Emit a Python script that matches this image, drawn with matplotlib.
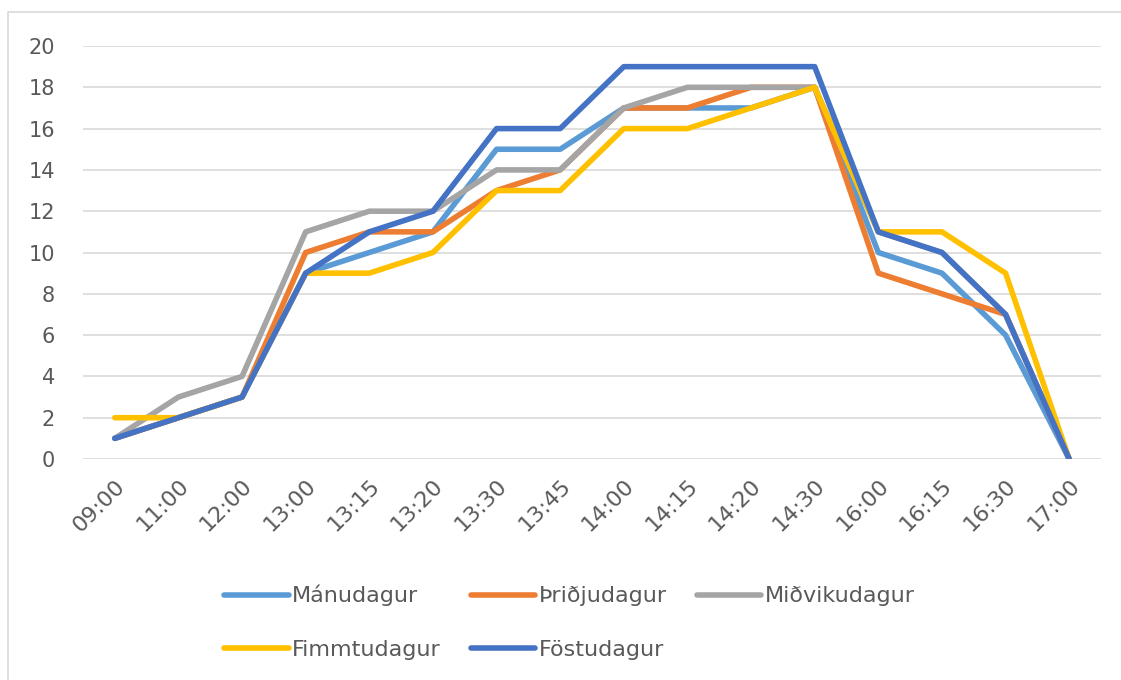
import matplotlib.pyplot as plt
from matplotlib.lines import Line2D

times = ['09:00', '11:00', '12:00', '13:00', '13:15', '13:20', '13:30', '13:45',
         '14:00', '14:15', '14:20', '14:30', '16:00', '16:15', '16:30', '17:00']

manudagur = [1, 2, 3, 9, 10, 11, 15, 15, 17, 17, 17, 18, 10, 9, 6, 0]
thridjudagur = [1, 2, 3, 10, 11, 11, 13, 14, 17, 17, 18, 18, 9, 8, 7, 0]
midvikudagur = [1, 3, 4, 11, 12, 12, 14, 14, 17, 18, 18, 18, 11, 10, 7, 0]
fimmtudagur = [2, 2, 3, 9, 9, 10, 13, 13, 16, 16, 17, 18, 11, 11, 9, 0]
fostudagur = [1, 2, 3, 9, 11, 12, 16, 16, 19, 19, 19, 19, 11, 10, 7, 0]

names = ['Mánudagur', 'Þriðjudagur', 'Miðvikudagur', 'Fimmtudagur', 'Föstudagur']
colors = ['#5B9BD5', '#ED7D31', '#A5A5A5', '#FFC000', '#4472C4']
series = [manudagur, thridjudagur, midvikudagur, fimmtudagur, fostudagur]

fig = plt.figure(figsize=(11.21, 6.8), dpi=100)
ax = fig.add_axes([83 / 1121, 1 - 459 / 680, (1101 - 83) / 1121, (459 - 46) / 680])

x = list(range(len(times)))
handles = []
for vals, name, c in zip(series, names, colors):
    h, = ax.plot(x, vals, color=c, lw=4.0, label=name,
                 solid_joinstyle='round', solid_capstyle='round')
    handles.append(h)

ax.set_xlim(-0.5, len(times) - 0.5)
ax.set_ylim(0, 20)
ax.set_yticks(range(0, 21, 2))
ax.set_xticks(x)
ax.set_xticklabels(times, rotation=45, ha='right', va='top', rotation_mode='anchor')
ax.grid(axis='y', color='#D9D9D9', lw=1.2)
ax.set_axisbelow(True)
for s in ax.spines.values():
    s.set_visible(False)
ax.tick_params(axis='both', length=0, labelsize=15, colors='#595959')
ax.tick_params(axis='y', pad=20)
ax.tick_params(axis='x', labelsize=16, pad=12)

# legend filled row by row like the original
order = [0, 3, 1, 4, 2]
fig.legend([handles[i] for i in order], [names[i] for i in order],
           ncol=3, loc='upper left', bbox_to_anchor=(0.2, 0.14),
           frameon=False, fontsize=16, labelcolor='#595959',
           handlelength=2.9, handletextpad=0.15, columnspacing=1.35,
           labelspacing=1.5, borderpad=0, borderaxespad=0)

# light chart border (top and left visible)
bx = 8 / 1121
by = 1 - 12 / 680
fig.add_artist(Line2D([bx, bx, 1], [0, by, by], transform=fig.transFigure,
                      color='#D9D9D9', lw=1.2))

fig.savefig('out.png', dpi=100)
